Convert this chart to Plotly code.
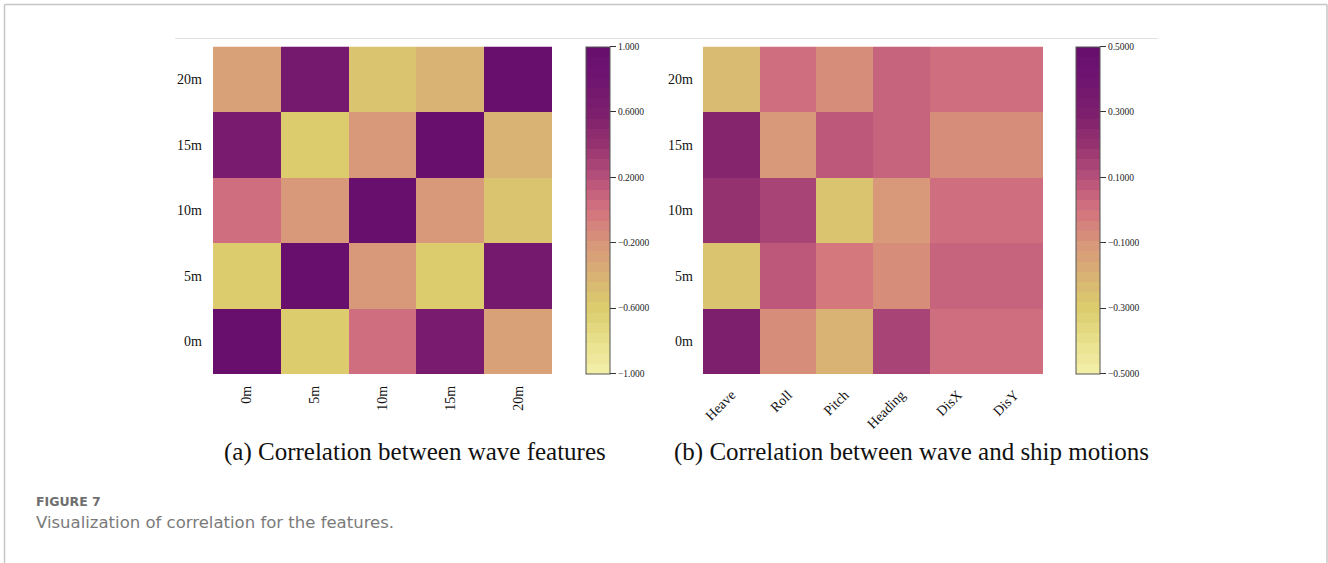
import plotly.graph_objects as go

W, H = 1328, 563

# ---------------- data ----------------
wave_labels = ["0m", "5m", "10m", "15m", "20m"]
motion_labels = ["Heave", "Roll", "Pitch", "Heading", "DisX", "DisY"]

# rows: 0m, 5m, 10m, 15m, 20m (bottom to top)
wave_corr = [
    [1.00, -0.62, 0.00, 0.68, -0.28],
    [-0.62, 1.00, -0.25, -0.62, 0.70],
    [0.00, -0.25, 1.00, -0.20, -0.55],
    [0.68, -0.62, -0.20, 1.00, -0.40],
    [-0.28, 0.70, -0.55, -0.40, 1.00],
]

motion_corr = [
    [0.31, -0.07, -0.21, 0.15, 0.00, 0.00],
    [-0.26, 0.07, -0.03, -0.07, 0.04, 0.04],
    [0.20, 0.15, -0.27, -0.10, 0.00, 0.00],
    [0.28, -0.10, 0.08, 0.04, -0.07, -0.07],
    [-0.22, 0.00, -0.08, 0.04, 0.00, 0.00],
]

cb1_vals = [1.0, 0.6, 0.2, -0.2, -0.6, -1.0]
cb1_text = ["1.000", "0.6000", "0.2000", "\u22120.2000", "\u22120.6000", "\u22121.000"]
cb2_vals = [0.5, 0.3, 0.1, -0.1, -0.3, -0.5]
cb2_text = ["0.5000", "0.3000", "0.1000", "\u22120.1000", "\u22120.3000", "\u22120.5000"]

# anchor colours of the palette (bottom -> top)
anchors = ["#f5f0aa", "#e8e08c", "#dccd6e", "#d9b274", "#d7967a", "#d4737f",
           "#b6507a", "#95336f", "#7d1e6e", "#701570", "#660e6e"]

# ------------- stepped colorscale -------------
def hex2rgb(h):
    h = h.lstrip("#")
    return [int(h[i:i + 2], 16) for i in (0, 2, 4)]

def sample(t):
    n = len(anchors) - 1
    p = t * n
    i = min(int(p), n - 1)
    f = p - i
    a, b = hex2rgb(anchors[i]), hex2rgb(anchors[i + 1])
    c = [round(a[k] + (b[k] - a[k]) * f) for k in range(3)]
    return "rgb(%d,%d,%d)" % tuple(c)

NB = 32
cscale = []
for i in range(NB):
    col = sample((i + 0.5) / NB)
    cscale.append([i / NB, col])
    cscale.append([(i + 1) / NB, col])

# ------------- layout geometry -------------
def px_x(v):
    return v / W

def px_y(v):
    return 1 - v / H

serif = "Liberation Serif"
ytop, ybot = 46.5, 374

fig = go.Figure()

cb_common = dict(
    thickness=24, thicknessmode="pixels", lenmode="pixels", len=ybot - ytop - 1,
    yanchor="top", y=px_y(ytop), xanchor="left", xpad=0, ypad=0,
    outlinewidth=1, outlinecolor="#555555",
    ticks="outside", ticklen=6, tickcolor="#333333", tickwidth=1,
    tickfont=dict(family=serif, size=9.5, color="#222222"),
)

fig.add_trace(go.Heatmap(
    z=wave_corr, x=wave_labels, y=wave_labels, zmin=-1, zmax=1,
    colorscale=cscale, xaxis="x", yaxis="y",
    colorbar=dict(cb_common, x=px_x(586), tickvals=cb1_vals, ticktext=cb1_text),
))

fig.add_trace(go.Heatmap(
    z=motion_corr, x=motion_labels, y=wave_labels, zmin=-0.5, zmax=0.5,
    colorscale=cscale, xaxis="x2", yaxis="y2",
    colorbar=dict(cb_common, x=px_x(1076), tickvals=cb2_vals, ticktext=cb2_text),
))

tickf = dict(family=serif, size=14, color="#111111")
ax_common = dict(showgrid=False, zeroline=False, showline=False, ticks="",
                 tickfont=tickf)

fig.update_layout(
    width=W, height=H, autosize=False,
    margin=dict(l=0, r=0, t=0, b=0),
    paper_bgcolor="white", plot_bgcolor="white",
    xaxis=dict(ax_common, domain=[px_x(213), px_x(552)], anchor="y",
               tickangle=-90, ticklabelstandoff=8),
    yaxis=dict(ax_common, domain=[px_y(ybot), px_y(ytop)], anchor="x",
               ticklabelstandoff=10),
    xaxis2=dict(ax_common, domain=[px_x(703), px_x(1043)], anchor="y2",
                tickangle=-45, ticklabelstandoff=9),
    yaxis2=dict(ax_common, domain=[px_y(ybot), px_y(ytop)], anchor="x2",
                ticklabelstandoff=9),
    showlegend=False,
)

# card frame and image top line
fig.add_shape(type="line", xref="paper", yref="paper",
              x0=px_x(4.5), x1=px_x(1327), y0=px_y(4.5), y1=px_y(4.5),
              line=dict(color="#c6c6c6", width=1.5))
fig.add_shape(type="line", xref="paper", yref="paper",
              x0=px_x(4.5), x1=px_x(4.5), y0=px_y(4.5), y1=px_y(600),
              line=dict(color="#c6c6c6", width=1.5))
fig.add_shape(type="line", xref="paper", yref="paper",
              x0=px_x(1327), x1=px_x(1327), y0=px_y(4.5), y1=px_y(600),
              line=dict(color="#c6c6c6", width=1.5))
fig.add_shape(type="line", xref="paper", yref="paper",
              x0=px_x(175), x1=px_x(1158), y0=px_y(38.5), y1=px_y(38.5),
              line=dict(color="#e2e2e2", width=1))

# subplot captions
fig.add_annotation(text="(a) Correlation between wave features", xref="paper", yref="paper",
                   x=px_x(415), y=px_y(452), xanchor="center", yanchor="middle",
                   showarrow=False, font=dict(family=serif, size=25, color="#111111"))
fig.add_annotation(text="(b) Correlation between wave and ship motions", xref="paper", yref="paper",
                   x=px_x(911), y=px_y(452), xanchor="center", yanchor="middle",
                   showarrow=False, font=dict(family=serif, size=25, color="#111111"))

# figure caption
fig.add_annotation(text="<b>FIGURE 7</b>", xref="paper", yref="paper",
                   x=px_x(34), y=px_y(502), xanchor="left", yanchor="middle",
                   showarrow=False, font=dict(family="DejaVu Sans", size=12.5, color="#6f6f6f"))
fig.add_annotation(text="Visualization of correlation for the features.", xref="paper", yref="paper",
                   x=px_x(34), y=px_y(522), xanchor="left", yanchor="middle",
                   showarrow=False, font=dict(family="DejaVu Sans", size=16.5, color="#7a7a7a"))

fig.write_html("out.html")
